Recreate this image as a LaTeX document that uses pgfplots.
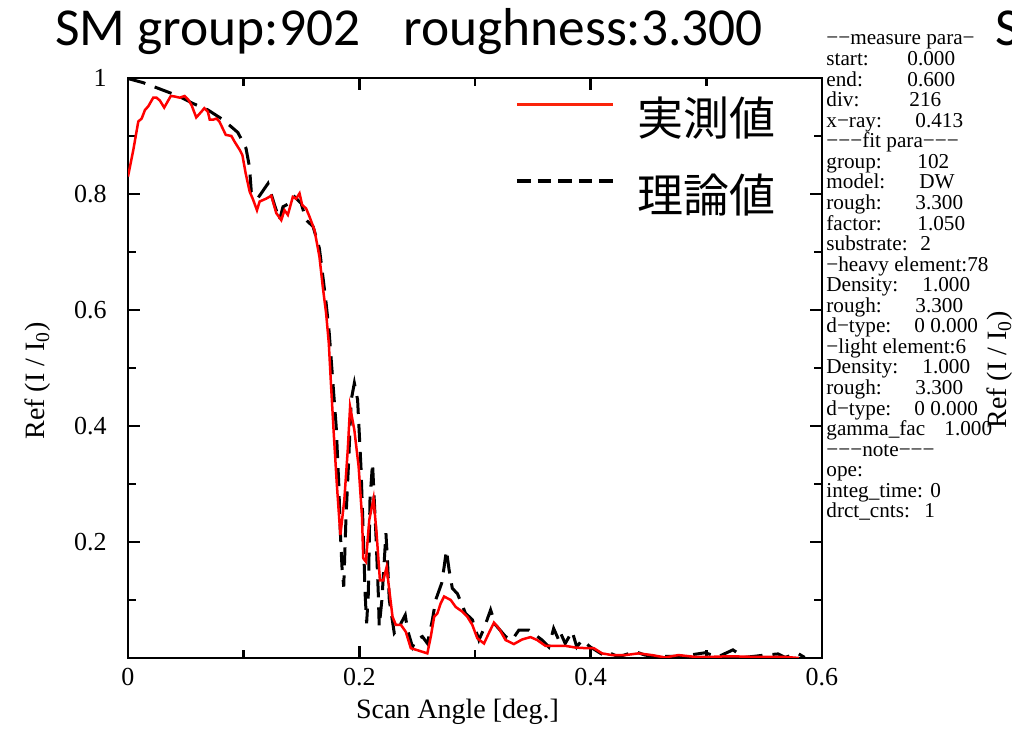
\documentclass[border=0pt]{standalone}
\usepackage{fontspec}
\setmainfont{Liberation Serif}
\newfontfamily\titlefont{Carlito}
\newfontfamily\cjk{Noto Sans CJK JP}
\usepackage{pgfplots}
\pgfplotsset{compat=1.18}
\definecolor{legred}{RGB}{250,35,10}
\begin{document}
\begin{tikzpicture}[x=1pt,y=1pt]
\useasboundingbox (0,0) rectangle (506,365.5);
\begin{axis}[
  at={(64pt,36.5pt)}, anchor=south west, scale only axis,
  width=347pt, height=290pt,
  xmin=0, xmax=0.6, ymin=0, ymax=1,
  xtick={0,0.2,0.4,0.6}, minor xtick={0.1,0.3,0.5},
  ytick={0.2,0.4,0.6,0.8,1}, minor ytick={0.1,0.3,0.5,0.7,0.9},
  tick align=inside, major tick length=6pt, minor tick length=4pt,
  axis line style={line width=1.3pt},
  tick style={black, line width=1.3pt},
  /pgf/number format/assume math mode=true,
  xticklabel style={font=\fontsize{13}{13}\selectfont, inner sep=0pt, anchor=north, yshift=-5pt},
  yticklabel style={font=\fontsize{13}{13}\selectfont, inner sep=0pt, anchor=east, xshift=-10.5pt},
  xlabel={Scan Angle [deg.]},
  xlabel style={at={(axis description cs:0.4748,-0.1047)}, anchor=base, font=\fontsize{14}{14}\selectfont},
  ylabel={Ref (I / I\textsubscript{0})},
  ylabel style={at={(axis description cs:-0.1297,0.4776)}, anchor=center, rotate=0, font=\fontsize{14}{14}\selectfont},
  legend style={at={(0.5576,0.8591)}, anchor=west, draw=none, fill=none, inner sep=0pt,
    row sep=18.5pt, font=\cjk\fontsize{23}{23}\selectfont,
    nodes={inner sep=0pt, text height=17pt, text depth=3pt},
    /tikz/every odd column/.append style={column sep=11.5pt}},
  legend cell align=left,
  legend image code/.code={\draw[#1] (0pt,8.6pt) -- (48pt,8.6pt);},
]
\addlegendimage{legred, line width=1.5pt}
\addlegendentry{実測値}
\addlegendimage{black, line width=1.6pt, dash pattern=on 6.8pt off 3.5pt}
\addlegendentry{理論値}
% theoretical
\addplot[black, line width=1.5pt, dash pattern=on 9pt off 5pt, forget plot] coordinates {
(0.000,0.999) (0.013,0.992) (0.029,0.980) (0.0434,0.969) (0.0563,0.956) (0.069,0.945)
(0.0822,0.928) (0.095,0.906) (0.102,0.879) (0.105,0.847) (0.1066,0.804) (0.112,0.792)
(0.121,0.818) (0.1267,0.781) (0.131,0.755) (0.134,0.778) (0.1397,0.784) (0.144,0.795)
(0.1497,0.784) (0.154,0.755) (0.160,0.744) (0.1655,0.706) (0.171,0.617) (0.174,0.560)
(0.177,0.479) (0.180,0.399) (0.1822,0.301) (0.1836,0.216) (0.185,0.157) (0.1865,0.123)
(0.1885,0.244) (0.1908,0.341) (0.193,0.445) (0.1957,0.474) (0.1985,0.445) (0.2014,0.330)
(0.2034,0.215) (0.205,0.111) (0.2063,0.060) (0.2078,0.111) (0.2092,0.272) (0.2114,0.336)
(0.2143,0.215) (0.2164,0.111) (0.2172,0.054) (0.2195,0.100) (0.2216,0.169) (0.223,0.215)
(0.2243,0.169) (0.2259,0.100) (0.2302,0.043) (0.2345,0.054) (0.2397,0.074) (0.2417,0.048)
(0.246,0.019) (0.2488,0.031) (0.2545,0.037) (0.2589,0.025) (0.2632,0.066) (0.266,0.100)
(0.2712,0.129) (0.2733,0.157) (0.2753,0.186) (0.2776,0.152) (0.2804,0.120) (0.2848,0.111)
(0.2918,0.077) (0.2977,0.066) (0.3034,0.031) (0.3078,0.051) (0.3135,0.083) (0.3178,0.057)
(0.3264,0.037) (0.332,0.031) (0.3379,0.048) (0.3466,0.048) (0.352,0.040) (0.358,0.031)
(0.3638,0.019) (0.368,0.051) (0.3724,0.031) (0.374,0.043) (0.378,0.025) (0.384,0.046)
(0.388,0.019) (0.3925,0.031) (0.3997,0.019) (0.4126,0.003) (0.4184,0.007) (0.424,0.002)
(0.4385,0.011) (0.447,0.005) (0.459,0.002) (0.467,0.003) (0.4787,0.003) (0.4988,0.009)
(0.510,0.002) (0.523,0.014) (0.533,0.001) (0.5506,0.005) (0.562,0.007) (0.568,0.001)
(0.579,0.008) (0.585,0.001)
};
% measured
\addplot[red, line width=1.25pt, forget plot] coordinates {
(0.000,0.830) (0.0046,0.876) (0.0089,0.925) (0.0118,0.930) (0.0147,0.945) (0.0175,0.951)
(0.0218,0.966) (0.0247,0.966) (0.0276,0.961) (0.0313,0.949) (0.0370,0.969) (0.0405,0.968)
(0.0448,0.966) (0.0490,0.969) (0.0520,0.963) (0.0550,0.953) (0.0590,0.932) (0.0635,0.942)
(0.0660,0.948) (0.0690,0.942) (0.0707,0.928) (0.0735,0.928) (0.0764,0.930) (0.0790,0.925)
(0.0845,0.902) (0.0894,0.900) (0.0922,0.890) (0.0966,0.876) (0.0989,0.867) (0.1017,0.836)
(0.1052,0.804) (0.1080,0.791) (0.1115,0.772) (0.1138,0.787) (0.1195,0.792) (0.1239,0.797)
(0.1282,0.767) (0.1325,0.755) (0.1353,0.772) (0.1382,0.764) (0.1425,0.795) (0.1454,0.792)
(0.1483,0.801) (0.1506,0.781) (0.1540,0.775) (0.1569,0.761) (0.1612,0.738) (0.1655,0.692)
(0.1684,0.640) (0.1713,0.594) (0.1736,0.543) (0.1756,0.468) (0.1779,0.387) (0.1805,0.301)
(0.1836,0.212) (0.1870,0.272) (0.1900,0.359) (0.1920,0.433) (0.1957,0.393) (0.1994,0.330)
(0.2023,0.244) (0.2034,0.172) (0.2057,0.166) (0.2086,0.238) (0.2123,0.275) (0.2149,0.215)
(0.2178,0.134) (0.2207,0.134) (0.2236,0.157) (0.2259,0.117) (0.2287,0.071) (0.2316,0.057)
(0.2360,0.057) (0.2402,0.045) (0.2445,0.017) (0.2588,0.008) (0.2618,0.037) (0.2647,0.071)
(0.2675,0.077) (0.2703,0.094) (0.2733,0.106) (0.2790,0.100) (0.2833,0.088) (0.2890,0.080)
(0.2934,0.071) (0.2977,0.057) (0.3020,0.034) (0.3078,0.025) (0.3120,0.043) (0.3164,0.061)
(0.3207,0.051) (0.3264,0.031) (0.3336,0.024) (0.3408,0.032) (0.3480,0.036) (0.3537,0.031)
(0.3609,0.021) (0.3695,0.021) (0.3780,0.021) (0.3868,0.018) (0.3954,0.017) (0.4026,0.017)
(0.4098,0.008) (0.4184,0.005) (0.4300,0.005) (0.4414,0.008) (0.4529,0.005) (0.4644,0.001)
(0.4759,0.005) (0.4900,0.002) (0.5046,0.002) (0.5200,0.003) (0.5400,0.002) (0.5678,0.002)
(0.5735,0.001) (0.5800,0.000)
};
\end{axis}
% titles
\node[anchor=base west, inner sep=0pt, font=\titlefont\fontsize{26.7}{26.7}\selectfont] at (27.5,342.5) {SM group:902};
\node[anchor=base west, inner sep=0pt, font=\titlefont\fontsize{26.7}{26.7}\selectfont] at (201.5,342.5) {roughness:3.300};
\node[anchor=base west, inner sep=0pt, font=\titlefont\fontsize{26.7}{26.7}\selectfont] at (497.5,342.5) {S};
% parameter panel
\node[anchor=base west, inner sep=0pt, font=\fontsize{10.6}{10.28}\selectfont] at (413,343) {\vtop{\baselineskip=10.28pt\lineskiplimit=-20pt
\hbox{−−measure para−}
\hbox{\makebox[40.5pt][l]{start:}0.000}
\hbox{\makebox[40.5pt][l]{end:}0.600}
\hbox{\makebox[41.5pt][l]{div:}216}
\hbox{\makebox[44.5pt][l]{x−ray:}0.413}
\hbox{−−−fit para−−−}
\hbox{\makebox[45.5pt][l]{group:}102}
\hbox{\makebox[46.5pt][l]{model:}DW}
\hbox{\makebox[44.5pt][l]{rough:}3.300}
\hbox{\makebox[45.5pt][l]{factor:}1.050}
\hbox{\makebox[47pt][l]{substrate:}2}
\hbox{−heavy element:78}
\hbox{\makebox[48pt][l]{Density:}1.000}
\hbox{\makebox[44.5pt][l]{rough:}3.300}
\hbox{\makebox[44pt][l]{d−type:}0 0.000}
\hbox{−light element:6}
\hbox{\makebox[48pt][l]{Density:}1.000}
\hbox{\makebox[44.5pt][l]{rough:}3.300}
\hbox{\makebox[44pt][l]{d−type:}0 0.000}
\hbox{\makebox[59pt][l]{gamma\_fac}1.000}
\hbox{−−−note−−−}
\hbox{ope:}
\hbox{\makebox[52pt][l]{integ\_time:}0}
\hbox{\makebox[49pt][l]{drct\_cnts:}1}
}};
\node[rotate=90, inner sep=0pt, font=\fontsize{14}{14}\selectfont] at (500,180.5) {Ref (I / I\textsubscript{0})};
\end{tikzpicture}
\end{document}
